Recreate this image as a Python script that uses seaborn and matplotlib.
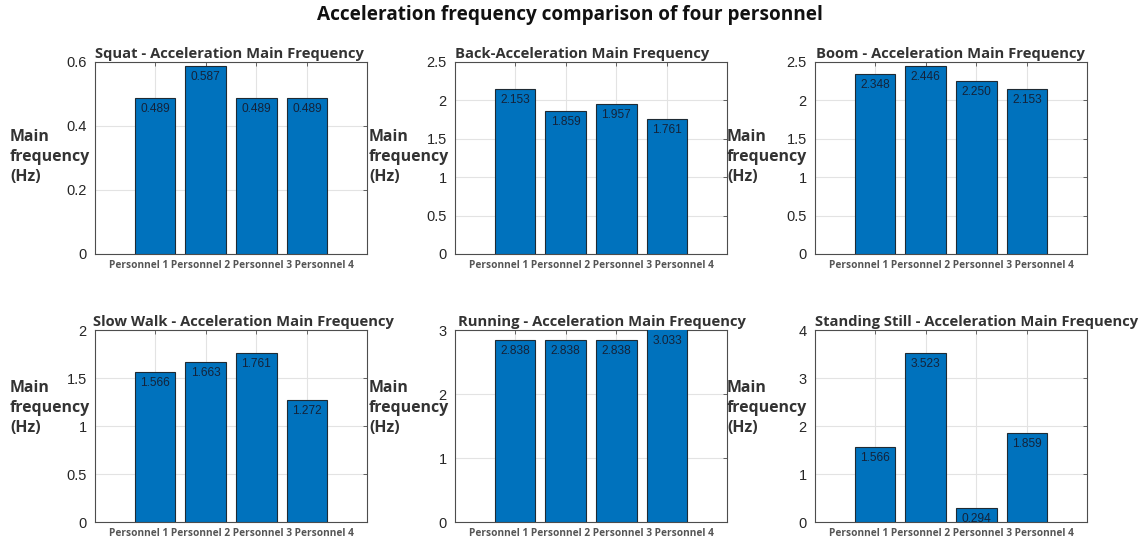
import matplotlib
matplotlib.use("Agg")
import matplotlib.pyplot as plt
import seaborn as sns
import pandas as pd

# ---- data ----
personnel = ["Personnel 1", "Personnel 2", "Personnel 3", "Personnel 4"]

titles = [
    "Squat - Acceleration Main Frequency",
    "Back-Acceleration Main Frequency",
    "Boom - Acceleration Main Frequency",
    "Slow Walk - Acceleration Main Frequency",
    "Running - Acceleration Main Frequency",
    "Standing Still - Acceleration Main Frequency",
]

squat = [0.489, 0.587, 0.489, 0.489]
back = [2.153, 1.859, 1.957, 1.761]
boom = [2.348, 2.446, 2.250, 2.153]
slow_walk = [1.566, 1.663, 1.761, 1.272]
running = [2.838, 2.838, 2.838, 3.033]
standing_still = [1.566, 3.523, 0.294, 1.859]

y_limits = [0.6, 2.5, 2.5, 2, 3, 4]
y_ticks = [
    [0, 0.2, 0.4, 0.6],
    [0, 0.5, 1, 1.5, 2, 2.5],
    [0, 0.5, 1, 1.5, 2, 2.5],
    [0, 0.5, 1, 1.5, 2],
    [0, 1, 2, 3],
    [0, 1, 2, 3, 4],
]
y_ticklabels = [
    ["0", "0.2", "0.4", "0.6"],
    ["0", "0.5", "1", "1.5", "2", "2.5"],
    ["0", "0.5", "1", "1.5", "2", "2.5"],
    ["0", "0.5", "1", "1.5", "2"],
    ["0", "1", "2", "3"],
    ["0", "1", "2", "3", "4"],
]
series = [squat, back, boom, slow_walk, running, standing_still]

# ---- layout (pixels) ----
W, H = 1142, 541
col_left = [95, 455, 815]
row_top = [62, 330]
ax_w, ax_h = 272, 192
ylabel_x = [10, 369, 727]
ylabel_y = [157, 408]
title_left = [95, 455, 816, 93, 458, 815]

# ---- styling ----
sns.set_theme(style="white")
plt.rcParams["font.family"] = ["Liberation Sans", "DejaVu Sans"]

fig = plt.figure(figsize=(W / 100, H / 100), dpi=100)
fig.patch.set_facecolor("white")

BAR = "#0072BD"
FRAME = "#4d4d4d"
LABEL_FONT = ["Open Sans", "DejaVu Sans"]

fig.text(570 / W, 1 - 15 / H, "Acceleration frequency comparison of four personnel",
         ha="center", va="center", fontsize=13.7, fontweight="bold",
         family=LABEL_FONT, color="#111111")

for i, (vals, title) in enumerate(zip(series, titles)):
    r, c = divmod(i, 3)
    left = col_left[c] / W
    bottom = 1 - (row_top[r] + ax_h) / H
    ax = fig.add_axes([left, bottom, ax_w / W, ax_h / H])

    df = pd.DataFrame({"person": personnel, "freq": vals})
    sns.barplot(data=df, x="person", y="freq", ax=ax, color=BAR, saturation=1,
                width=0.8, edgecolor="#1f2a33", linewidth=0.8, zorder=3)

    ax.set_xlim(-1.18, 4.18)
    ax.set_ylim(0, y_limits[i])
    ax.set_yticks(y_ticks[i])
    ax.set_yticklabels(y_ticklabels[i])
    ax.set_xlabel("")
    ax.set_ylabel("")

    ax.grid(True, color="#e3e3e3", linewidth=0.8, zorder=0)
    ax.set_axisbelow(True)
    for s in ax.spines.values():
        s.set_color(FRAME)
        s.set_linewidth(0.8)
        s.set_visible(True)

    ax.tick_params(axis="y", direction="in", length=3, width=0.6, color=FRAME,
                   labelsize=10.5, labelcolor="#262626", right=True, pad=6)
    # category names run as one centred line under the axes
    ax.tick_params(axis="x", direction="in", length=3, width=0.6, color=FRAME,
                   top=True, labelbottom=False)
    ax.text(0.5, -12 / ax_h, " ".join(personnel), transform=ax.transAxes,
            ha="center", va="center", fontsize=7.3, fontweight="bold",
            family=LABEL_FONT, color="#555555")

    ax.set_title(title, fontsize=10.6, fontweight="bold", family=LABEL_FONT,
                 color="#333333", pad=3, ha="left",
                 x=(title_left[i] - col_left[c]) / ax_w)

    for xpos, v in enumerate(vals):
        ax.annotate(f"{v:.3f}", xy=(xpos, min(v, y_limits[i])), xytext=(0, -8),
                    textcoords="offset points", ha="center", va="center",
                    fontsize=8.6, color="#14233a", zorder=5)

    fig.text(ylabel_x[c] / W, 1 - ylabel_y[r] / H, "Main\nfrequency\n(Hz)",
             ha="left", va="center", fontsize=11.4, fontweight="bold",
             family=LABEL_FONT, color="#333333", linespacing=1.37)

fig.savefig("out.png", dpi=100, facecolor="white")
